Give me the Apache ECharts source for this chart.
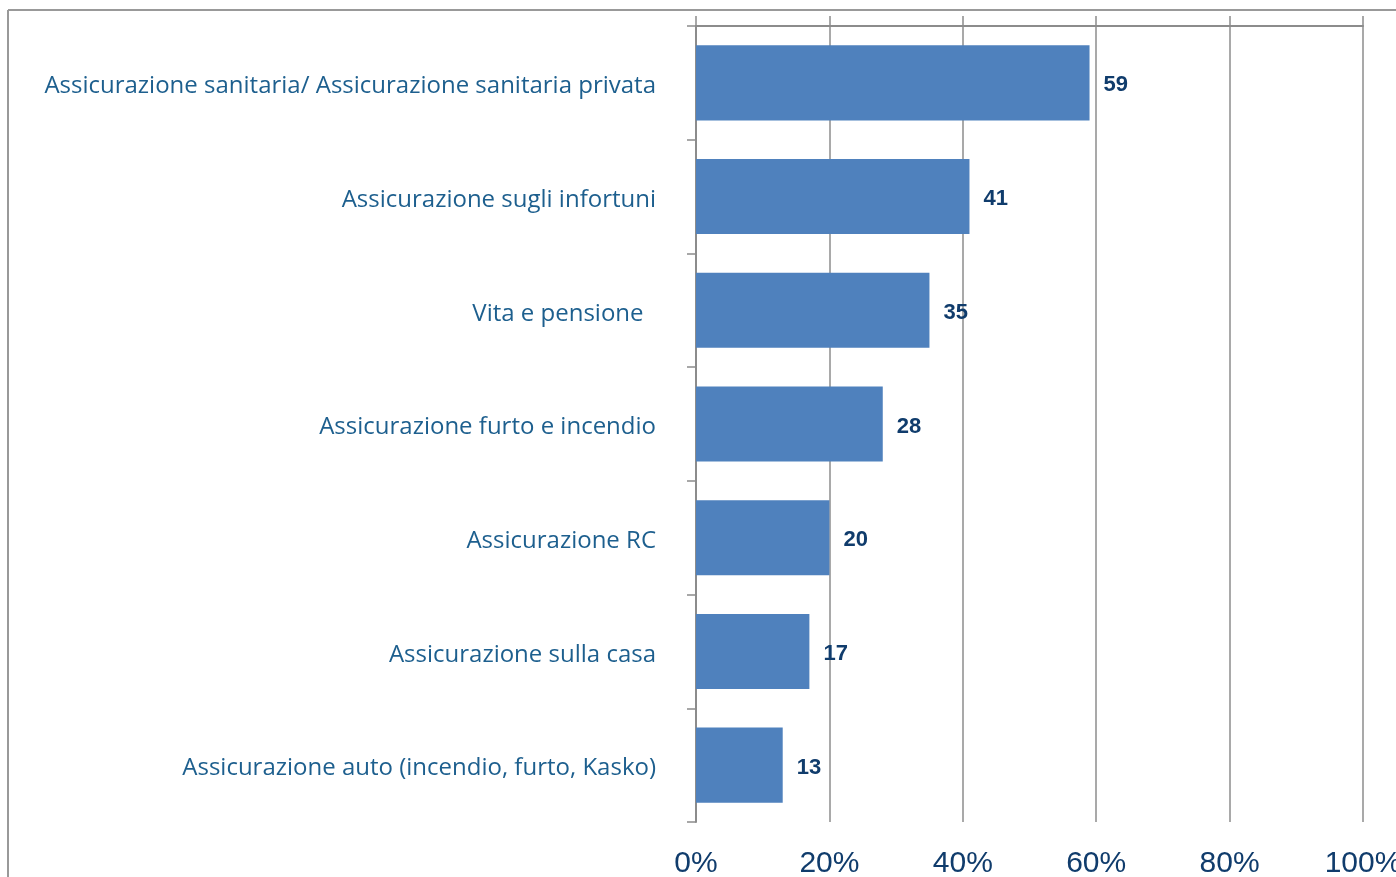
<!DOCTYPE html>
<html>
<head>
<meta charset="utf-8">
<script src="https://cdn.jsdelivr.net/npm/echarts@6/dist/echarts.min.js"></script>
<style>
  html, body { margin: 0; padding: 0; background: #fff; }
  #chart { width: 1396px; height: 877px; }
</style>
</head>
<body>
<div id="chart"></div>
<script>
// categories top to bottom
const categories = [
  'Assicurazione sanitaria/ Assicurazione sanitaria privata',
  'Assicurazione sugli infortuni',
  'Vita e pensione  ',
  'Assicurazione furto e incendio',
  'Assicurazione RC',
  'Assicurazione sulla casa',
  'Assicurazione auto (incendio, furto, Kasko)'
];
const values = [59, 41, 35, 28, 20, 17, 13];
const tickLabels = ['0%', '20%', '40%', '60%', '80%', '100%'];

const chart = echarts.init(document.getElementById('chart'));

const gridColor = '#8c8c8c';

chart.setOption({
  animation: false,
  grid: { left: 696, right: 33, top: 26, bottom: 55, containLabel: false, outerBoundsMode: 'none' },
  graphic: [
    // outer frame (top + left edge)
    { type: 'line', shape: { x1: 8, y1: 10, x2: 1396, y2: 10 }, style: { stroke: '#999', lineWidth: 2 } },
    { type: 'line', shape: { x1: 8, y1: 10, x2: 8, y2: 877 }, style: { stroke: '#999', lineWidth: 2 } }
  ],
  xAxis: [
    {
      type: 'value', position: 'top', min: 0, max: 100, interval: 20,
      axisLine: { show: true, lineStyle: { color: gridColor, width: 2 } },
      axisTick: { show: true, length: 10, lineStyle: { color: gridColor, width: 1.5 } },
      axisLabel: { show: false },
      splitLine: { show: true, lineStyle: { color: gridColor, width: 1.5 } }
    },
    {
      type: 'value', position: 'bottom', min: 0, max: 100, interval: 20,
      axisLine: { show: false },
      axisTick: { show: false },
      splitLine: { show: false },
      axisLabel: {
        margin: 27,
        fontSize: 30,
        fontFamily: 'Liberation Sans, Arial',
        color: '#103c6c',
        formatter: v => tickLabels[v / 20]
      }
    }
  ],
  yAxis: {
    type: 'category', data: categories, inverse: true,
    axisLine: { show: true, lineStyle: { color: gridColor, width: 2 } },
    axisTick: { show: true, length: 9, lineStyle: { color: gridColor, width: 1.5 } },
    axisLabel: {
      margin: 40,
      formatter: v => '{c|' + v + '}',
      rich: {
        c: {
          fontSize: 24,
          fontFamily: 'Open Sans',
          color: '#1d5f8e',
          padding: [7, 0, 0, 0]
        }
      }
    }
  },
  series: [{
    type: 'bar',
    xAxisIndex: 0,
    data: values,
    barCategoryGap: '34%',
    itemStyle: { color: '#4f81bd' },
    label: {
      show: true,
      position: 'right',
      distance: 14,
      formatter: p => '{v|' + p.value + '}',
      rich: {
        v: {
          fontSize: 22,
          fontWeight: 'bold',
          fontFamily: 'Liberation Sans, Arial',
          color: '#103c6c',
          padding: [5, 0, 0, 0]
        }
      }
    }
  }]
});
</script>
</body>
</html>
